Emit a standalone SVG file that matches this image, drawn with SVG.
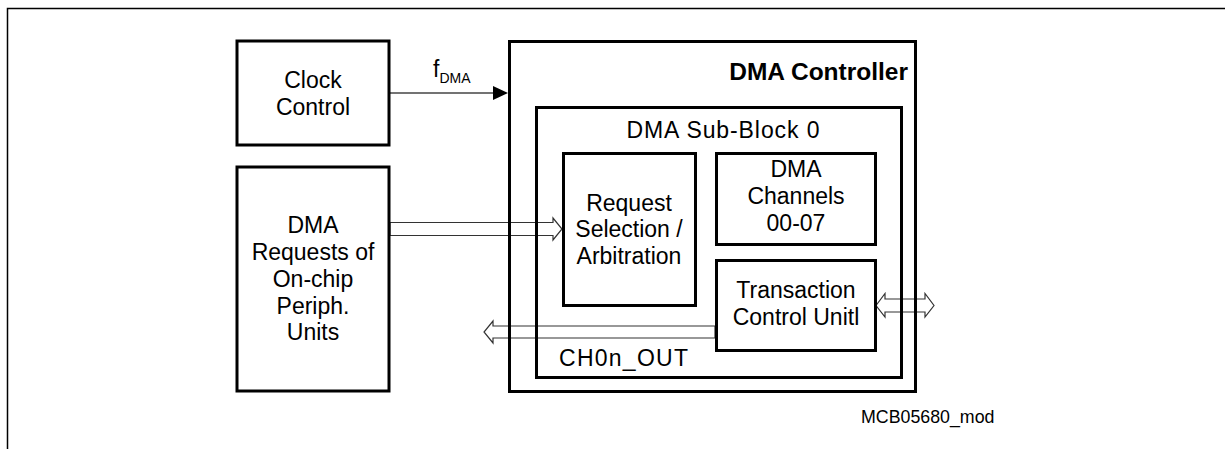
<svg xmlns="http://www.w3.org/2000/svg" width="1225" height="449" viewBox="0 0 1225 449">
<style>
.box{fill:none;stroke:#000;stroke-width:3}
.t{font-family:"Liberation Sans",Arial,sans-serif;font-size:23px;fill:#000;text-anchor:middle}
.wide{fill:#fff;stroke:#333;stroke-width:1.2}
.thin{stroke:#444;stroke-width:1.3;fill:none}
</style>
<rect x="0" y="0" width="1225" height="449" fill="#fff"/>
<path d="M7.5,449 V8.5 H1225" fill="none" stroke="#000" stroke-width="1.5"/>
<g id="connectors">
<line class="thin" x1="390" y1="93" x2="496" y2="93"/>
<polygon points="493,86 508,93 493,100" fill="#000"/>
<text x="433" y="77" font-family="Liberation Sans,Arial,sans-serif" font-size="23">f<tspan font-size="14" dy="6">DMA</tspan></text>
<polygon class="wide" points="390,222.5 553,222.5 553,218 562,229 553,240 553,235.5 390,235.5"/>
<polygon class="wide" points="715,326 493,326 493,321 484,332 493,343 493,338 715,338"/>
<polygon class="wide" points="876,305.5 885,293.5 885,299 925,299 925,293.5 934,305.5 925,317 925,312 885,312 885,317"/>
</g>
<g id="clock">
<rect class="box" x="237" y="41" width="152" height="104"/>
<text class="t" x="313" y="88">Clock</text>
<text class="t" x="313" y="115">Control</text>
</g>
<g id="requests">
<rect class="box" x="237" y="167" width="152" height="224"/>
<text class="t" x="313" y="233">DMA</text>
<text class="t" x="313" y="260">Requests of</text>
<text class="t" x="313" y="287">On-chip</text>
<text class="t" x="313" y="314">Periph.</text>
<text class="t" x="313" y="340">Units</text>
</g>
<g id="controller">
<rect class="box" x="509.5" y="41.5" width="406" height="350"/>
<text x="908" y="80" font-family="Liberation Sans,Arial,sans-serif" font-size="24.5" font-weight="bold" text-anchor="end">DMA Controller</text>
</g>
<g id="subblock">
<rect class="box" x="536.5" y="107.5" width="365" height="270"/>
<text class="t" x="723" y="138" textLength="193" lengthAdjust="spacing">DMA Sub-Block 0</text>
<text x="559" y="366" font-family="Liberation Sans,Arial,sans-serif" font-size="23" textLength="129" lengthAdjust="spacing">CH0n_OUT</text>
</g>
<g id="request-selection">
<rect class="box" x="563.5" y="153.5" width="132" height="152"/>
<text class="t" x="629" y="211">Request</text>
<text class="t" x="629" y="237">Selection /</text>
<text class="t" x="629" y="264">Arbitration</text>
</g>
<g id="channels">
<rect class="box" x="716.5" y="153.5" width="159" height="91"/>
<text class="t" x="796" y="177">DMA</text>
<text class="t" x="796" y="204">Channels</text>
<text class="t" x="796" y="231">00-07</text>
</g>
<g id="transaction">
<rect class="box" x="716.5" y="260.5" width="159" height="90"/>
<text class="t" x="796" y="298">Transaction</text>
<text class="t" x="796" y="325">Control Unitl</text>
</g>
<text x="861" y="423" font-family="Liberation Sans,Arial,sans-serif" font-size="17.8">MCB05680_mod</text>
</svg>
